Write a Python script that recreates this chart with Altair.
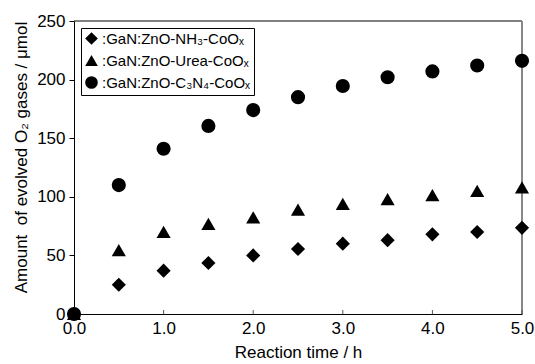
import altair as alt
import pandas as pd

times = [0.0, 0.5, 1.0, 1.5, 2.0, 2.5, 3.0, 3.5, 4.0, 4.5, 5.0]
nh3 = [0, 25, 37, 43.5, 50, 55.5, 60, 63, 68, 70, 73.5]
urea = [0, 54.5, 70, 77, 82.5, 89, 94, 98, 101.5, 105, 108]
c3n4 = [0, 110, 141, 160.5, 174, 185, 194.5, 202, 207, 212, 216]

labels = [":GaN:ZnO-NH\u2083-CoO\u2093",
          ":GaN:ZnO-Urea-CoO\u2093",
          ":GaN:ZnO-C\u2083N\u2084-CoO\u2093"]
shapes = ["diamond", "triangle-up", "circle"]
x_ticks = [1, 2, 3, 4, 5]

rows = []
for lab, vals in zip(labels, [nh3, urea, c3n4]):
    for t, v in zip(times, vals):
        rows.append({"t": t, "v": v, "series": lab})
df = pd.DataFrame(rows)

FONT = "Liberation Sans"
xs = alt.Scale(domain=[0, 5], nice=False, padding=0)
ys = alt.Scale(domain=[0, 250], nice=False, padding=0)

points = alt.Chart(df).mark_point(filled=True, opacity=1, color="black", size=200, clip=False).encode(
    x=alt.X("t:Q", scale=xs,
            axis=alt.Axis(title="Reaction time / h", values=[0, 1, 2, 3, 4, 5], format=".1f",
                          ticks=False, grid=False, domainColor="black", labelPadding=6,
                          titlePadding=8, labelFontSize=17, titleFontSize=17,
                          labelFont=FONT, titleFont=FONT, titleFontWeight="normal",
                          labelColor="black", titleColor="black", labelFlush=False)),
    y=alt.Y("v:Q", scale=ys,
            axis=alt.Axis(title="Amount\u00a0 of evolved O\u2082 gases / \u03bcmol", values=[0, 50, 100, 150, 200, 250],
                          tickSize=5, grid=False, domainColor="black", tickColor="black",
                          labelPadding=4, titlePadding=6, labelFontSize=17, titleFontSize=17,
                          titleY=136,
                          labelFont=FONT, titleFont=FONT, titleFontWeight="normal",
                          labelColor="black", titleColor="black")),
    shape=alt.Shape("series:N", title=None,
                    scale=alt.Scale(domain=labels, range=shapes),
                    legend=alt.Legend(orient="top-left", offset=7, padding=3,
                                      strokeColor="black", fillColor="white",
                                      labelFont=FONT, labelFontSize=15, labelColor="black",
                                      labelLimit=400, symbolSize=160, symbolFillColor="black",
                                      symbolStrokeColor="black", symbolType="circle",
                                      rowPadding=4, labelOffset=3)),
)

top_df = pd.DataFrame({"x": [0], "x2": [5], "y": [250]})
top_line = alt.Chart(top_df).mark_rule(color="black", strokeWidth=1).encode(
    x=alt.X("x:Q", scale=xs), x2="x2:Q", y=alt.Y("y:Q", scale=ys))

right_df = pd.DataFrame({"x": [5], "y": [0], "y2": [250]})
right_line = alt.Chart(right_df).mark_rule(color="#888888", strokeWidth=2).encode(
    x=alt.X("x:Q", scale=xs), y=alt.Y("y:Q", scale=ys), y2="y2:Q")

tick_df = pd.DataFrame({"x": x_ticks, "y": [0] * len(x_ticks), "y2": [3.4] * len(x_ticks)})
ticks = alt.Chart(tick_df).mark_rule(color="#555555", strokeWidth=1).encode(
    x=alt.X("x:Q", scale=xs), y=alt.Y("y:Q", scale=ys), y2="y2:Q")

chart = alt.layer(top_line, right_line, ticks, points).properties(
    width=448, height=293,
    autosize=alt.AutoSizeParams(type="none"),
    padding={"left": 74, "top": 21, "right": 13, "bottom": 50},
    background="white",
).configure_view(stroke=None)

chart.save("out.html", embed_options={"renderer": "svg", "actions": False})
